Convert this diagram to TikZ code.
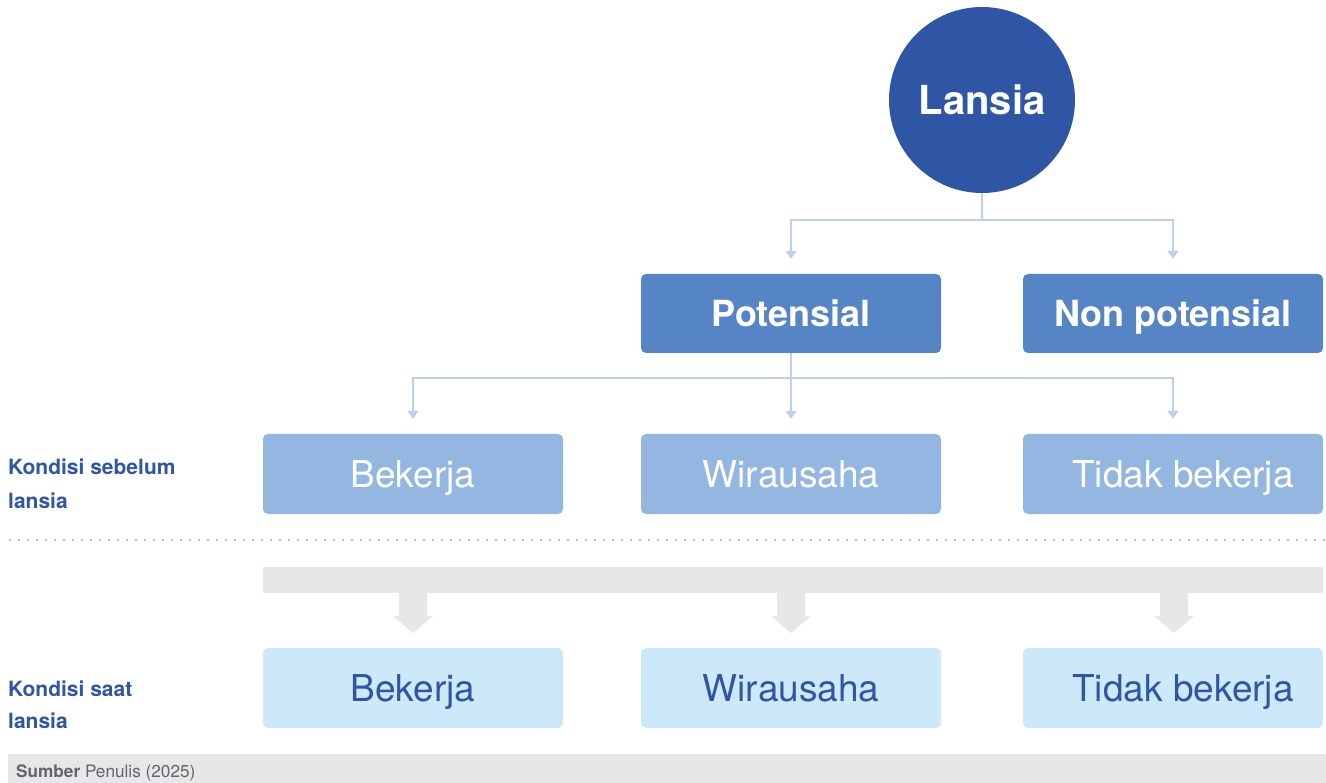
\documentclass[tikz,border=0pt]{standalone}
\usepackage{fontspec}
\setmainfont{TeX Gyre Heros}
\usetikzlibrary{arrows.meta}
\definecolor{dblue}{RGB}{47,85,165}
\definecolor{mblue}{RGB}{85,133,197}
\definecolor{lblue}{RGB}{147,183,225}
\definecolor{pblue}{RGB}{205,232,248}
\definecolor{cblue}{RGB}{185,208,238}
\definecolor{lgray}{RGB}{230,231,233}
\definecolor{dotgray}{RGB}{190,191,193}
\definecolor{tgray}{RGB}{100,101,104}
\tikzset{
  conn/.style={draw=cblue,line width=2pt,-{Triangle[width=11pt,length=8pt]},shorten >=15pt},
  connl/.style={draw=cblue,line width=2pt},
  boxbase/.style={rounded corners=5pt,minimum width=300pt,inner sep=0pt,text depth=0pt},
  topbox/.style={boxbase,fill=mblue,text=white,minimum height=79pt,text height=26pt,font=\fontsize{36}{40}\selectfont\bfseries},
  midbox/.style={boxbase,fill=lblue,text=white,minimum height=80pt,text height=26.6pt,font=\fontsize{37}{40}\selectfont},
  lowbox/.style={boxbase,fill=pblue,text=dblue,minimum height=80pt,text height=26.6pt,font=\fontsize{37}{40}\selectfont},
  sidelabel/.style={text=dblue,anchor=base west,inner sep=0pt,font=\fontsize{21}{24}\selectfont\bfseries},
}
\begin{document}
\begin{tikzpicture}[x=1pt,y=-1pt]
\useasboundingbox (0,0) rectangle (1326,783);
% circle
\node[circle,fill=dblue,text=white,minimum size=186pt,inner sep=0pt,text height=28.8pt,text depth=0pt,font=\fontsize{40}{44}\selectfont\bfseries] (lansia) at (982,100) {Lansia};
% level 1
\node[topbox] (pot) at (791,313.5) {Potensial};
\node[topbox] (nonpot) at (1173,313.5) {Non potensial};
\coordinate (b1) at (982,220);
\draw[connl] (lansia.south) -- (b1);
\draw[conn] (b1) -| (pot.north);
\draw[conn] (b1) -| (nonpot.north);
% level 2
\node[midbox] (bek1) at (413,474) {Bekerja};
\node[midbox] (wir1) at (791,474) {Wirausaha};
\node[midbox] (tid1) at (1173,474) {\hspace*{20pt}Tidak bekerja};
\coordinate (b2) at (791,378);
\draw[connl] (pot.south) -- (b2);
\draw[conn] (b2) -| (bek1.north);
\draw[conn] (b2) -- (wir1.north);
\draw[conn] (b2) -| (tid1.north);
% side labels
\node[sidelabel] (l1a) at (8,475) {Kondisi sebelum};
\node[sidelabel] (l1b) at (8,508) {lansia};
\node[sidelabel] (l2a) at (8,696) {Kondisi saat};
\node[sidelabel] (l2b) at (8,728) {lansia};
% dotted separator
\draw[dotgray,line width=2pt,dash pattern=on 2pt off 7pt] (9,540) -- (1326,540);
% gray bar and arrows
\fill[lgray] (263,567) rectangle (1323,593);
\foreach \c in {413,791,1174}{
  \fill[lgray] (\c-14,593) -- (\c-14,616) -- (\c-20,616) -- (\c,633) -- (\c+20,616) -- (\c+14,616) -- (\c+14,593) -- cycle;
}
% level 3
\node[lowbox] (bek2) at (413,688) {Bekerja};
\node[lowbox] (wir2) at (791,688) {Wirausaha};
\node[lowbox] (tid2) at (1173,688) {\hspace*{20pt}Tidak bekerja};
% footer
\fill[lgray] (8,754) rectangle (1326,783);
\node[anchor=base west,inner sep=0pt,text=tgray,font=\fontsize{17.2}{19}\selectfont] (src) at (16,777) {\textbf{Sumber} Penulis (2025)};
\end{tikzpicture}
\end{document}
